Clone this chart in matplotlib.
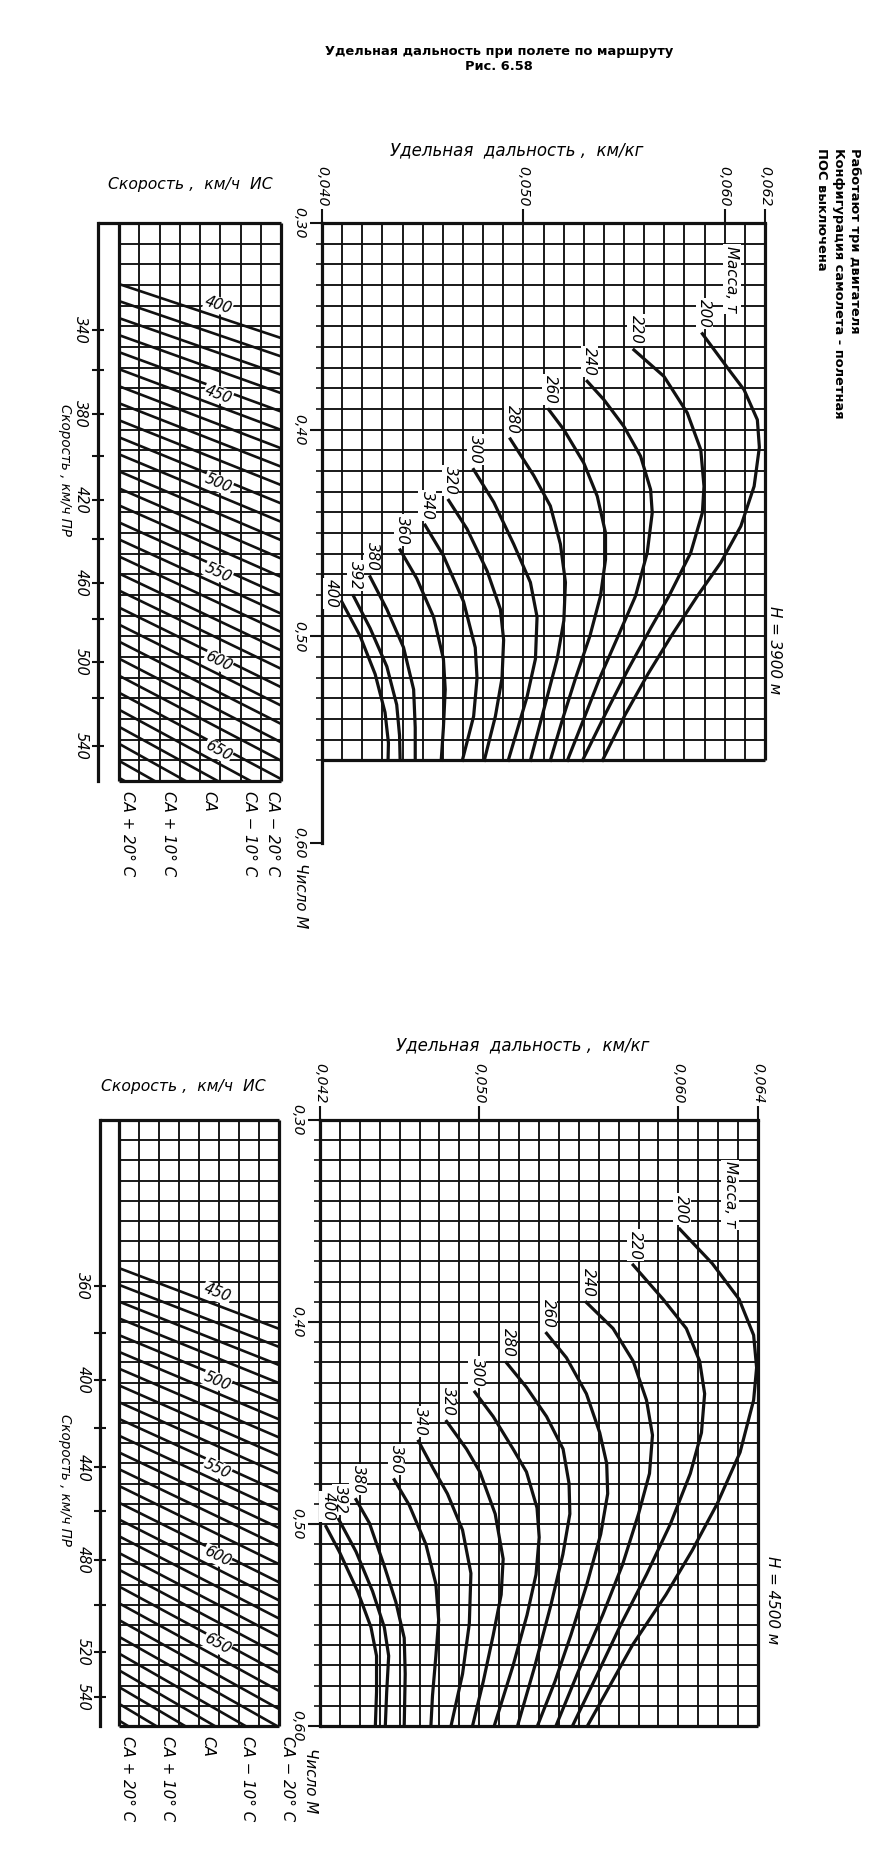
import matplotlib
matplotlib.use("Agg")
import matplotlib.pyplot as plt
from matplotlib import font_manager
from matplotlib.patches import Rectangle
import numpy as np

# ---- значения ----
masses = [200, 220, 240, 260, 280, 300, 320, 340, 360, 380, 392, 400]

# H = 3900 м: удельная дальность (км/кг) и число М вдоль кривых массы
sr_3900 = [
    [0.05889, 0.06030, 0.06096, 0.06162, 0.06172, 0.06146, 0.06080, 0.05980, 0.05864, 0.05740, 0.05620, 0.05505, 0.05393],
    [0.05549, 0.05698, 0.05814, 0.05881, 0.05897, 0.05889, 0.05831, 0.05723, 0.05632, 0.05520, 0.05410, 0.05294],
    [0.05317, 0.05400, 0.05499, 0.05582, 0.05632, 0.05640, 0.05615, 0.05557, 0.05470, 0.05380, 0.05300, 0.05219],
    [0.05126, 0.05201, 0.05300, 0.05367, 0.05408, 0.05408, 0.05383, 0.05330, 0.05260, 0.05195, 0.05134],
    [0.04935, 0.05051, 0.05134, 0.05184, 0.05209, 0.05201, 0.05168, 0.05118, 0.05035],
    [0.04753, 0.04853, 0.04952, 0.05035, 0.05068, 0.05060, 0.05018, 0.04925],
    [0.04629, 0.04720, 0.04820, 0.04886, 0.04902, 0.04894, 0.04861, 0.04806],
    [0.04512, 0.04603, 0.04703, 0.04761, 0.04770, 0.04753, 0.04697],
    [0.04388, 0.04471, 0.04554, 0.04603, 0.04612, 0.04603, 0.04592],
    [0.04239, 0.04322, 0.04405, 0.04455, 0.04463, 0.04463],
    [0.04156, 0.04239, 0.04322, 0.04371, 0.04385, 0.04388],
    [0.04098, 0.04189, 0.04264, 0.04313, 0.04330, 0.04328],
]
m_3900 = [
    [0.3536, 0.3722, 0.3807, 0.3952, 0.4085, 0.4274, 0.4467, 0.4644, 0.4805, 0.4990, 0.5180, 0.5380, 0.5600],
    [0.3614, 0.3742, 0.3919, 0.4097, 0.4274, 0.4402, 0.4596, 0.4805, 0.4961, 0.5160, 0.5370, 0.5600],
    [0.3766, 0.3855, 0.3984, 0.4128, 0.4290, 0.4402, 0.4596, 0.4805, 0.5000, 0.5200, 0.5400, 0.5600],
    [0.3903, 0.4000, 0.4161, 0.4322, 0.4499, 0.4628, 0.4805, 0.5000, 0.5200, 0.5400, 0.5600],
    [0.4045, 0.4221, 0.4369, 0.4554, 0.4739, 0.4924, 0.5109, 0.5294, 0.5600],
    [0.4193, 0.4351, 0.4554, 0.4739, 0.4906, 0.5109, 0.5294, 0.5600],
    [0.4342, 0.4480, 0.4684, 0.4869, 0.5017, 0.5202, 0.5387, 0.5600],
    [0.4462, 0.4610, 0.4832, 0.5054, 0.5202, 0.5387, 0.5600],
    [0.4582, 0.4721, 0.4906, 0.5109, 0.5257, 0.5442, 0.5600],
    [0.4712, 0.4869, 0.5054, 0.5257, 0.5442, 0.5600],
    [0.4804, 0.4961, 0.5146, 0.5331, 0.5479, 0.5600],
    [0.4832, 0.4998, 0.5183, 0.5368, 0.5516, 0.5600],
]

# H = 4500 м
sr_4500 = [
    [0.06007, 0.06170, 0.06305, 0.06378, 0.06393, 0.06378, 0.06310, 0.06195, 0.06070, 0.05937, 0.05769, 0.05543],
    [0.05773, 0.05923, 0.06040, 0.06107, 0.06132, 0.06116, 0.06060, 0.05960, 0.05840, 0.05710, 0.05590, 0.05468],
    [0.05538, 0.05672, 0.05773, 0.05840, 0.05870, 0.05855, 0.05800, 0.05720, 0.05620, 0.05510, 0.05385],
    [0.05338, 0.05438, 0.05538, 0.05605, 0.05640, 0.05645, 0.05610, 0.05540, 0.05460, 0.05380, 0.05292],
    [0.05137, 0.05237, 0.05338, 0.05421, 0.05451, 0.05455, 0.05420, 0.05360, 0.05280, 0.05192],
    [0.04978, 0.05070, 0.05170, 0.05237, 0.05290, 0.05301, 0.05285, 0.05240, 0.05170, 0.05075],
    [0.04836, 0.04936, 0.05003, 0.05080, 0.05120, 0.05110, 0.05070, 0.05020, 0.04966],
    [0.04695, 0.04769, 0.04840, 0.04916, 0.04958, 0.04950, 0.04916, 0.04858],
    [0.04573, 0.04648, 0.04732, 0.04782, 0.04796, 0.04782, 0.04765, 0.04757],
    [0.04381, 0.04448, 0.04523, 0.04581, 0.04623, 0.04628, 0.04623],
    [0.04294, 0.04381, 0.04464, 0.04523, 0.04545, 0.04535, 0.04528],
    [0.04230, 0.04297, 0.04389, 0.04456, 0.04484, 0.04484, 0.04478],
]
m_4500 = [
    [0.3540, 0.3710, 0.3887, 0.4065, 0.4226, 0.4387, 0.4645, 0.4900, 0.5130, 0.5351, 0.5600, 0.6000],
    [0.3718, 0.3887, 0.4032, 0.4194, 0.4355, 0.4548, 0.4750, 0.5000, 0.5250, 0.5500, 0.5750, 0.6000],
    [0.3903, 0.4032, 0.4194, 0.4387, 0.4560, 0.4750, 0.4950, 0.5200, 0.5450, 0.5700, 0.6000],
    [0.4056, 0.4177, 0.4355, 0.4548, 0.4700, 0.4850, 0.5050, 0.5300, 0.5550, 0.5780, 0.6000],
    [0.4202, 0.4323, 0.4468, 0.4629, 0.4800, 0.4950, 0.5150, 0.5400, 0.5700, 0.6000],
    [0.4347, 0.4468, 0.4629, 0.4742, 0.4920, 0.5066, 0.5250, 0.5450, 0.5700, 0.6000],
    [0.4492, 0.4629, 0.4742, 0.4950, 0.5173, 0.5350, 0.5550, 0.5780, 0.6000],
    [0.4590, 0.4726, 0.4850, 0.5030, 0.5244, 0.5493, 0.5742, 0.6000],
    [0.4781, 0.4906, 0.5101, 0.5297, 0.5475, 0.5653, 0.5850, 0.6000],
    [0.4879, 0.4995, 0.5208, 0.5386, 0.5564, 0.5742, 0.6000],
    [0.4977, 0.5137, 0.5333, 0.5511, 0.5653, 0.5831, 0.6000],
    [0.5012, 0.5137, 0.5333, 0.5511, 0.5653, 0.5831, 0.6000],
]

sr_ticks_3900 = [0.040, 0.050, 0.060, 0.062]
sr_ticks_4500 = [0.042, 0.050, 0.060, 0.064]
mach_ticks = [0.30, 0.40, 0.50, 0.60]

# истинная скорость (линии в левой сетке), км/ч
tas_3900 = [400, 410, 420, 430, 440, 450, 460, 470, 480, 490, 500, 510, 520, 530, 540,
            550, 560, 570, 580, 590, 600, 610, 620, 630, 640, 650, 660, 670, 680, 690]
tas_marked_3900 = [400, 450, 500, 550, 600, 650]
tas_4500 = [450, 460, 470, 480, 490, 500, 510, 520, 530, 540, 550, 560, 570, 580, 590,
            600, 610, 620, 630, 640, 650, 660, 670, 680, 690, 700, 710, 720]
tas_marked_4500 = [450, 500, 550, 600, 650]

# приборная скорость: деления шкалы и их положение по числу М
ias_3900 = [340, 360, 380, 400, 420, 440, 460, 480, 500, 520, 540]
ias_mach_3900 = [0.3517, 0.3712, 0.3925, 0.4128, 0.4340, 0.4530, 0.4742, 0.4915, 0.5126, 0.5300, 0.5531]
ias_marked_3900 = [340, 380, 420, 460, 500, 540]
ias_4500 = [360, 380, 400, 420, 440, 460, 480, 500, 520, 540]
ias_mach_4500 = [0.3822, 0.4054, 0.4285, 0.4525, 0.4720, 0.4935, 0.5179, 0.5402, 0.5634, 0.5857]
ias_marked_4500 = [360, 400, 440, 480, 520, 540]

temp_dev = [20, 10, 0, -10, -20]
temp_labels = ["СА + 20° С", "СА + 10° С", "СА", "СА − 10° С", "СА − 20° С"]

t_isa_3900 = 262.8   # K
t_isa_4500 = 258.9   # K

# ---- шрифты ----
installed = {f.name for f in font_manager.fontManager.ttflist}
NARROW, K = "DejaVu Sans", 0.75
for name, k in [("Liberation Sans Narrow", 1.0), ("DejaVu Sans Condensed", 0.82)]:
    if name in installed:
        NARROW, K = name, k
        break
FAM = [NARROW, "DejaVu Sans"]
ITAL = dict(family=FAM, style="italic")
BOLD = dict(family=FAM, weight="bold", size=12.5 * K)

INK = "#111111"
GRID_LW = 1.35
FRAME_LW = 2.3
CURVE_LW = 2.3
TAS_LW = 1.9

W, H = 891, 1857
fig = plt.figure(figsize=(W / 100, H / 100), dpi=100)


def px_box(x0, y0, x1, y1):
    return [x0 / W, 1 - y1 / H, (x1 - x0) / W, (y1 - y0) / H]


def fig_text(x, y, s, **kw):
    fig.text(x / W, 1 - y / H, s, **kw)


def sound(t):
    return 20.05 * np.sqrt(t) * 3.6


def comma(v, nd):
    return f"{v:.{nd}f}".replace(".", ",")


def italic_labels(labels, size):
    for t in labels:
        t.set_fontfamily(FAM)
        t.set_fontstyle("italic")
        t.set_fontsize(size)


def main_chart(box, sr_lo, sr_hi, m_end, sr_ticks, sr_lists, m_lists, mass_pos):
    ax = fig.add_axes(box)
    ax.set_xlim(sr_lo, sr_hi)
    ax.set_ylim(0.60, 0.30)
    ax.patch.set_alpha(0)
    cols = np.linspace(sr_lo, sr_hi, 23)
    n_rows = int(round((m_end - 0.30) / 0.01))
    rows = np.linspace(0.30, m_end, n_rows + 1)
    ax.vlines(cols, 0.30, m_end, color=INK, lw=GRID_LW, zorder=1)
    ax.hlines(rows, sr_lo, sr_hi, color=INK, lw=GRID_LW, zorder=1)
    ax.hlines([m_end], sr_lo, sr_hi, color=INK, lw=FRAME_LW, zorder=2, clip_on=False)
    ax.vlines([sr_hi], 0.30, m_end, color=INK, lw=FRAME_LW, zorder=2, clip_on=False)
    for s in ["right", "bottom"]:
        ax.spines[s].set_visible(False)
    for s in ["left", "top"]:
        ax.spines[s].set_linewidth(FRAME_LW)
        ax.spines[s].set_color(INK)

    ax.xaxis.tick_top()
    ax.set_xticks(sr_ticks, [comma(v, 3) for v in sr_ticks])
    ax.set_yticks(mach_ticks, [comma(v, 2) for v in mach_ticks])
    minor = [r for r in rows[1:] if abs(r * 10 - round(r * 10)) > 1e-6]
    ax.set_yticks(minor, minor=True)
    ax.set_xticks([], minor=True)
    ax.tick_params(axis="x", which="major", direction="out", length=10, width=1.5,
                   pad=2, labelrotation=-90, color=INK)
    ax.tick_params(axis="y", which="major", direction="out", length=9, width=1.5,
                   pad=2, labelrotation=-90, color=INK)
    ax.tick_params(axis="y", which="minor", direction="out", length=4, width=1.2, color=INK)
    italic_labels(ax.get_xticklabels(), 13.5 * K)
    italic_labels(ax.get_yticklabels(), 13.5 * K)
    for t in ax.get_yticklabels():
        t.set_va("center")

    for mass, sr, m in zip(masses, sr_lists, m_lists):
        ax.plot(sr, m, color=INK, lw=CURVE_LW, solid_joinstyle="round", zorder=3)
        if mass == 400 and m[0] < 0.49:
            # у нижней кривой подпись стоит левее начала линии
            kw = dict(xytext=(-2, 6), ha="right", va="center")
        else:
            kw = dict(xytext=(1.5, 4), ha="center", va="bottom")
        ax.annotate(str(mass), xy=(sr[0], m[0]), textcoords="offset points",
                    rotation=-90, fontsize=14.5 * K, zorder=5,
                    bbox=dict(boxstyle="square,pad=0.08", fc="white", ec="none"),
                    **kw, **ITAL)
    ax.text(mass_pos[0], mass_pos[1], "Масса, т", rotation=-90, ha="center", va="center",
            fontsize=14.5 * K, zorder=5,
            bbox=dict(boxstyle="square,pad=0.1", fc="white", ec="none"), **ITAL)
    return ax


def speed_panel(box, x_inner, m_bottom, t_isa, tas_lines, tas_marked,
                ias_vals, ias_mach, ias_marked, cold_right):
    x0, y0, x1, y1 = box
    ax = fig.add_axes(px_box(*box))
    dt_left = 20 + (x_inner - x0) * 40 / (x1 - x_inner)
    ax.set_xlim(dt_left, -20)
    ax.set_ylim(0.60, 0.30)
    ax.patch.set_alpha(0)
    for s in ["top", "right", "bottom"]:
        ax.spines[s].set_visible(False)
    ax.spines["left"].set_bounds(0.30, m_bottom)
    ax.spines["left"].set_linewidth(FRAME_LW)
    ax.spines["left"].set_color(INK)
    ax.set_xticks([])

    cols = np.linspace(20, -20, 9)
    n_rows = int(round((m_bottom - 0.30) / 0.01))
    rows = np.linspace(0.30, m_bottom, n_rows + 1)
    ax.vlines(cols[1:-1], 0.30, m_bottom, color=INK, lw=GRID_LW)
    ax.hlines(rows[1:-1], 20, -20, color=INK, lw=GRID_LW)
    ax.vlines([20, -20], 0.30, m_bottom, color=INK, lw=FRAME_LW, clip_on=False)
    ax.hlines([0.30], dt_left, -20, color=INK, lw=FRAME_LW, clip_on=False)
    ax.hlines([m_bottom], 20, -20, color=INK, lw=FRAME_LW, clip_on=False)

    clip = Rectangle((-20, 0.30), 40, m_bottom - 0.30, transform=ax.transData)
    for v in tas_lines:
        ln, = ax.plot([20, -20], [v / sound(t_isa + 20), v / sound(t_isa - 20)],
                      color=INK, lw=TAS_LW)
        ln.set_clip_path(clip)
    for v in tas_marked:
        p1 = ax.transData.transform((20, v / sound(t_isa + 20)))
        p2 = ax.transData.transform((-20, v / sound(t_isa - 20)))
        ang = np.degrees(np.arctan2(p2[1] - p1[1], p2[0] - p1[0]))
        ax.annotate(str(v), xy=(-4.5, v / sound(t_isa - 4.5)), xytext=(0, 7.5),
                    textcoords="offset points", rotation=ang, rotation_mode="anchor",
                    ha="center", va="center", fontsize=14 * K, zorder=5,
                    bbox=dict(boxstyle="square,pad=0.05", fc="white", ec="none"), **ITAL)

    ax.set_yticks(ias_mach, [str(v) if v in ias_marked else "" for v in ias_vals])
    ax.tick_params(axis="y", direction="inout", length=8, width=1.5, pad=3,
                   labelrotation=-90, color=INK)
    italic_labels(ax.get_yticklabels(), 14 * K)
    for t in ax.get_yticklabels():
        t.set_va("center")

    for dt, lab in zip(temp_dev, temp_labels):
        ha = "left"
        dx = 1
        if dt == -20 and not cold_right:
            ha, dx = "right", -1
        ax.annotate(lab, xy=(dt, m_bottom), xytext=(dx, -7), textcoords="offset points",
                    rotation=-90, ha=ha, va="top", fontsize=14.5 * K,
                    annotation_clip=False, **ITAL)
    return ax


# ---- заголовок и примечания ----
fig_text(499, 51, "Удельная дальность при полете по маршруту", ha="center", va="center", **BOLD)
fig_text(499, 67, "Рис. 6.58", ha="center", va="center", **BOLD)
notes = ["Работают три двигателя", "Конфигурация самолета - полетная", "ПОС выключена"]
for x, s in zip([855, 838, 821], notes):
    fig_text(x, 148, s, rotation=-90, ha="center", va="top", **BOLD)

# ---- H = 3900 м ----
main_chart(px_box(322, 223, 765, 843), 0.040, 0.062, 0.56, sr_ticks_3900,
           sr_3900, m_3900, (0.06035, 0.327))
speed_panel((98, 223, 281, 843), 119, 0.57, t_isa_3900, tas_3900, tas_marked_3900,
            ias_3900, ias_mach_3900, ias_marked_3900, cold_right=False)
fig_text(517, 150, "Удельная  дальность ,  км/кг", ha="center", va="center", fontsize=16 * K, **ITAL)
fig_text(190, 185, "Скорость ,  км/ч  ИС", ha="center", va="center", fontsize=15 * K, **ITAL)
fig_text(65, 470, "Скорость , км/ч ПР", rotation=-90, ha="center", va="center", fontsize=13 * K, **ITAL)
fig_text(775, 650, "H = 3900 м", rotation=-90, ha="center", va="center", fontsize=14.5 * K, **ITAL)
fig_text(300, 863, "Число М", rotation=-90, ha="center", va="top", fontsize=14.5 * K, **ITAL)

# ---- H = 4500 м ----
main_chart(px_box(320, 1120, 758, 1726), 0.042, 0.064, 0.60, sr_ticks_4500,
           sr_4500, m_4500, (0.0626, 0.337))
speed_panel((100, 1120, 279, 1726), 119, 0.60, t_isa_4500, tas_4500, tas_marked_4500,
            ias_4500, ias_mach_4500, ias_marked_4500, cold_right=True)
fig_text(523, 1045, "Удельная  дальность ,  км/кг", ha="center", va="center", fontsize=16 * K, **ITAL)
fig_text(183, 1086, "Скорость ,  км/ч  ИС", ha="center", va="center", fontsize=15 * K, **ITAL)
fig_text(65, 1480, "Скорость , км/ч ПР", rotation=-90, ha="center", va="center", fontsize=13 * K, **ITAL)
fig_text(773, 1600, "H = 4500 м", rotation=-90, ha="center", va="center", fontsize=14.5 * K, **ITAL)
fig_text(310, 1748, "Число М", rotation=-90, ha="center", va="top", fontsize=14.5 * K, **ITAL)

fig.savefig("out.png", dpi=100, facecolor="white")
